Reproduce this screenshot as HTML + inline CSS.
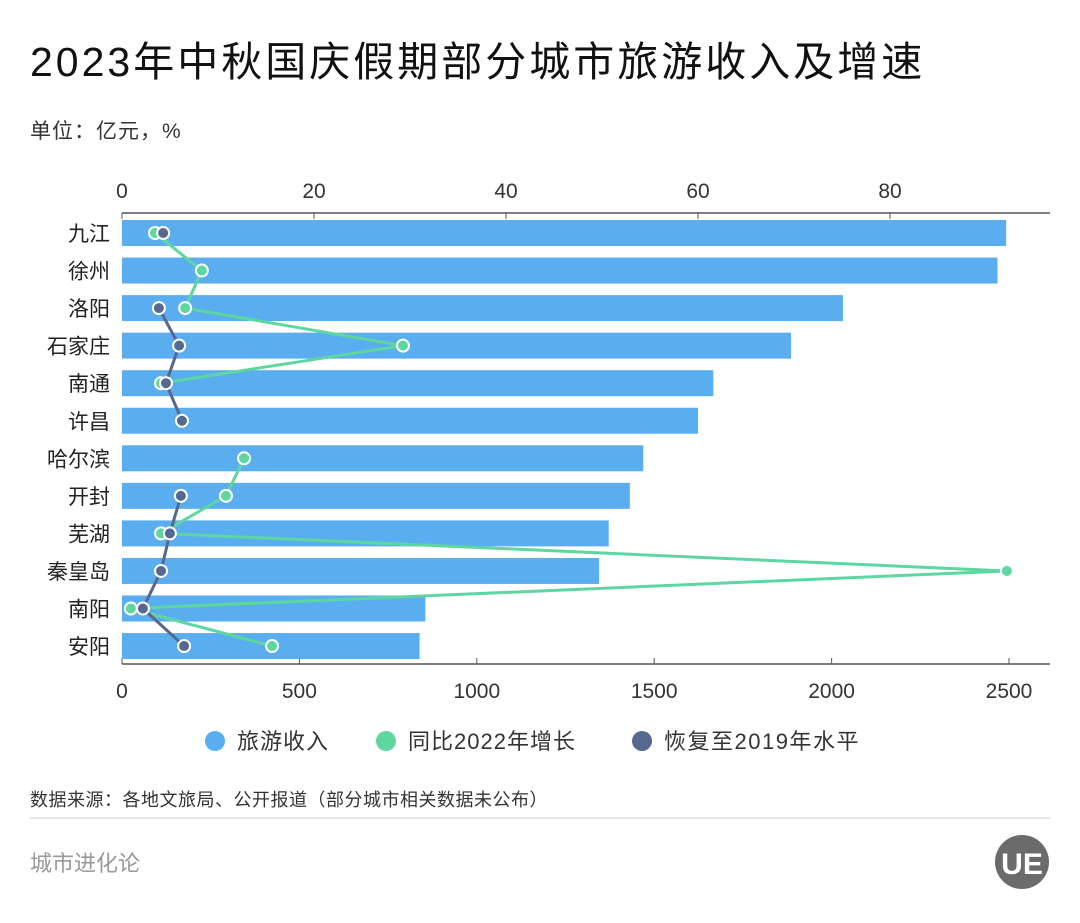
<!DOCTYPE html>
<html><head><meta charset="utf-8"><style>
body{margin:0;width:1080px;height:918px;background:#fff;font-family:"Liberation Sans","Noto Sans CJK SC",sans-serif;overflow:hidden}
</style></head><body>
<svg width="1080" height="918" xmlns="http://www.w3.org/2000/svg" font-family="Liberation Sans, Noto Sans CJK SC, sans-serif">
<text x="30" y="76" font-size="41" letter-spacing="3" fill="#111">2023年中秋国庆假期部分城市旅游收入及增速</text>
<text x="30" y="138" font-size="21" letter-spacing="1" fill="#333">单位：亿元，%</text>
<g id="chart"></g>
<g>
<circle cx="215" cy="741" r="10" fill="#5aaef0"/><text x="237" y="749" font-size="22" letter-spacing="1" fill="#333">旅游收入</text>
<circle cx="386" cy="741" r="10" fill="#5dd6a0"/><text x="408" y="749" font-size="22" letter-spacing="1" fill="#333">同比2022年增长</text>
<circle cx="642" cy="741" r="10" fill="#56688f"/><text x="664" y="749" font-size="22" letter-spacing="1.5" fill="#333">恢复至2019年水平</text>
</g>
<text x="30" y="806" font-size="18" letter-spacing="0.5" fill="#333">数据来源：各地文旅局、公开报道（部分城市相关数据未公布）</text>
<line x1="30" y1="818" x2="1050" y2="818" stroke="#ddd" stroke-width="1.5"/>
<text x="30" y="871" font-size="22" fill="#999">城市进化论</text>
<g><circle cx="1022" cy="862" r="27" fill="#6b6b6b"/><text x="1022" y="874" font-size="30" font-weight="bold" fill="#fff" text-anchor="middle">UE</text></g>
</svg>
<script>
const cities=["九江","徐州","洛阳","石家庄","南通","许昌","哈尔滨","开封","芜湖","秦皇岛","南阳","安阳"];
const revenue=[92.1,91.2,75.1,69.7,61.6,60.0,54.3,52.9,50.7,49.7,31.6,31.0];
const growth=[93,225,178,792,110,null,344,293,110,2494,25,423];
const recovery=[116,null,104,161,124,169,null,166,135,110,59,175];
const topTicks=[0,20,40,60,80];
const bottomTicks=[0,500,1000,1500,2000,2500];
const NS="http://www.w3.org/2000/svg";
const g=document.getElementById('chart');
const x0=122,xTop=v=>x0+v*9.6,xBot=v=>x0+v*0.3548,yRow=i=>233+i*37.55;
function el(t,a,p){const e=document.createElementNS(NS,t);for(const k in a)e.setAttribute(k,a[k]);(p||g).appendChild(e);return e;}
let ln=el('line',{x1:x0,y1:213,x2:1050,y2:213,stroke:'#555','stroke-width':1.5});


ln=el('line',{x1:x0,y1:664,x2:1050,y2:664,stroke:'#555','stroke-width':1.5});


topTicks.forEach(v=>{const t=el('text',{x:xTop(v),y:198,'font-size':21,fill:'#333','text-anchor':'middle'});t.textContent=v;


el('line',{x1:xTop(v),y1:213,x2:xTop(v),y2:219,stroke:'#555'});});
bottomTicks.forEach(v=>{const t=el('text',{x:xBot(v),y:698,'font-size':21,fill:'#333','text-anchor':'middle'});t.textContent=v;


el('line',{x1:xBot(v),y1:658,x2:xBot(v),y2:664,stroke:'#555'});});
cities.forEach((c,i)=>{const t=el('text',{x:110,y:yRow(i)+8,'font-size':21,fill:'#222','text-anchor':'end'});t.textContent=c;


const r=el('rect',{x:x0,y:yRow(i)-13,width:xTop(revenue[i])-x0,height:26,fill:'#5aaef0'});

});
function series(vals,color,name){let d='',pen=false;vals.forEach((v,i)=>{if(v==null){pen=false;return;}d+=(pen?'L':'M')+xBot(v)+' '+yRow(i)+' ';pen=true;});
const p=el('path',{d:d,fill:'none',stroke:color,'stroke-width':3});


vals.forEach((v,i)=>{if(v==null)return;const c=el('circle',{cx:xBot(v),cy:yRow(i),r:6,fill:color,stroke:'#fff','stroke-width':2});

});}
series(growth,'#5dd6a0','growth');
series(recovery,'#56688f','recovery');
</script>
</body></html>
